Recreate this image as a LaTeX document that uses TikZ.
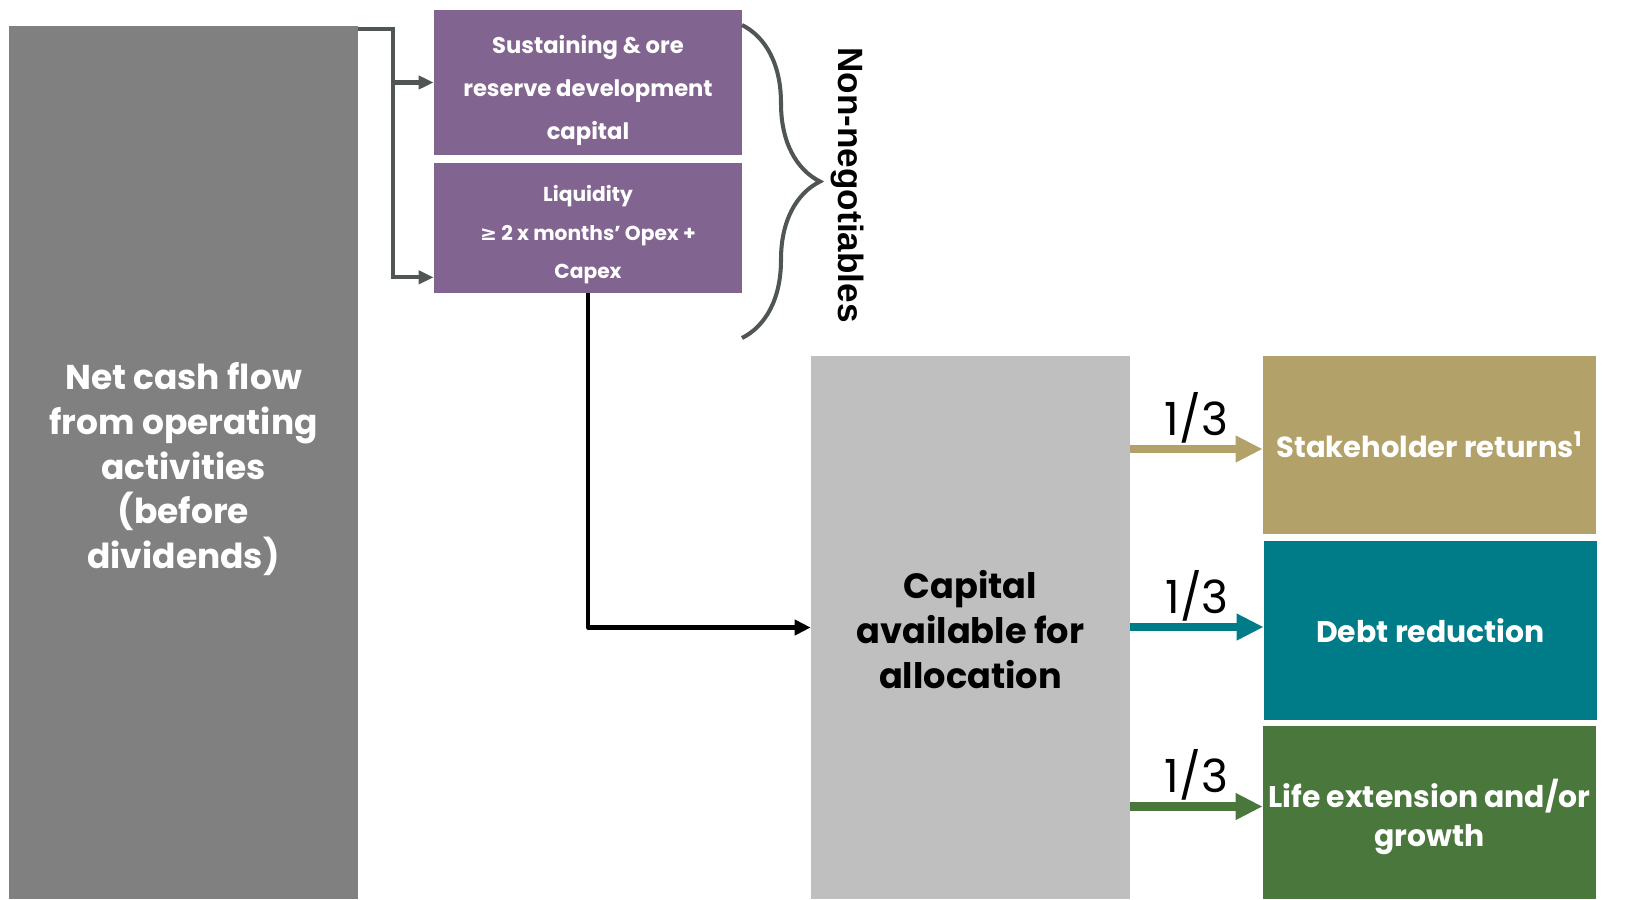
\documentclass[tikz,border=0pt]{standalone}
\usepackage{fontspec}
\newfontfamily\arialfont{Liberation Sans}
\newfontfamily\gothic{Poppins}
\newfontfamily\symfont{DejaVu Sans}
\usetikzlibrary{arrows.meta,positioning,calc,decorations.pathreplacing}
\definecolor{netgrey}{RGB}{128,128,128}
\definecolor{capgrey}{RGB}{191,191,191}
\definecolor{nnpurple}{RGB}{130,100,145}
\definecolor{retgold}{RGB}{179,161,106}
\definecolor{debtteal}{RGB}{0,124,137}
\definecolor{lifegreen}{RGB}{74,119,60}
\definecolor{linegrey}{RGB}{80,86,86}

\begin{document}
\begin{tikzpicture}[x=0.02cm, y=-0.02cm,
    box/.style={rectangle, inner sep=0pt, align=center, text=white},
    feed/.style={draw=linegrey, line width=2.3pt, -{Triangle[length=0.3cm, width=0.26cm]}},
    share/.style={line width=5pt, -{Triangle[length=0.54cm, width=0.5cm]}},
    frac/.style={text=black, inner sep=1pt, above=0pt, font=\gothic\fontsize{26}{30}\selectfont}
]
\useasboundingbox (0,0) rectangle (1631,899);

% Net cash flow
\node[box, fill=netgrey, minimum width=6.98cm, minimum height=17.46cm,
      font=\gothic\bfseries\fontsize{19.6}{25.5}\selectfont] (net) at (183.5,462.5)
      {\rule{0pt}{23pt}Net cash flow\\from operating\\activities\\(before\\dividends)};

% Non-negotiables
\node[box, fill=nnpurple, minimum width=6.16cm, minimum height=2.9cm,
      font=\gothic\bfseries\fontsize{12.9}{24.4}\selectfont] (sust) at (588,82.5)
      {\rule{0pt}{19pt}Sustaining \& ore\\reserve development\\capital};
\node[box, fill=nnpurple, minimum width=6.16cm, minimum height=2.6cm,
      font=\gothic\bfseries\fontsize{11.5}{21.8}\selectfont] (liq) at (588,228)
      {\rule{0pt}{17pt}Liquidity\\{\symfont\bfseries ≥} 2 x months’ Opex +\\Capex};
\draw[linegrey, line width=2.3pt, decorate, decoration={brace, amplitude=1.56cm}]
      (742,25) -- (742,338);
\node[rotate=-90, font=\arialfont\bfseries\fontsize{20}{24}\selectfont] (nonneg) at (847,185) {Non-negotiables};

% Feed from net cash flow
\coordinate (split) at (393,29);
\draw[feed] (net.north east |- split) -- (split) |- ([yshift=0.32cm]liq.south west);
\draw[feed] (split |- sust.west) -- (sust.west);

% Capital available
\node[box, fill=capgrey, text=black, minimum width=6.38cm, minimum height=10.86cm,
      font=\gothic\bfseries\fontsize{20}{25.8}\selectfont] (cap) at (970.5,627.5)
      {\rule{0pt}{18.5pt}Capital\\available for\\allocation};
\draw[line width=2.3pt, line join=round, -{Triangle[length=0.32cm, width=0.3cm]}] (liq.south) |- (cap.west);

% Allocation
\node[box, fill=retgold, minimum width=6.66cm, minimum height=3.56cm,
      font=\gothic\bfseries\fontsize{16.5}{21.5}\selectfont] (stake) at (1429.5,445)
      {Stakeholder returns\textsuperscript{1}};
\node[box, fill=debtteal, minimum width=6.66cm, minimum height=3.58cm,
      font=\gothic\bfseries\fontsize{17}{21.5}\selectfont] (debt) at (1430.5,630.5)
      {Debt reduction};
\node[box, fill=lifegreen, minimum width=6.66cm, minimum height=3.46cm,
      font=\gothic\bfseries\fontsize{17}{22}\selectfont] (life) at (1429.5,812.5)
      {\rule{0pt}{21.5pt}Life extension and/or\\growth};

\coordinate (stakein) at ([yshift=-0.08cm]stake.west);
\coordinate (debtin) at ([yshift=0.07cm]debt.west);
\coordinate (lifein) at ([yshift=0.12cm]life.west);
\draw[share, retgold] (cap.east |- stakein) -- (stakein) node[frac, midway] {1/3};
\draw[share, debtteal] (cap.east |- debtin) -- (debtin) node[frac, midway] {1/3};
\draw[share, lifegreen] (cap.east |- lifein) -- (lifein) node[frac, midway] {1/3};

\end{tikzpicture}
\end{document}
